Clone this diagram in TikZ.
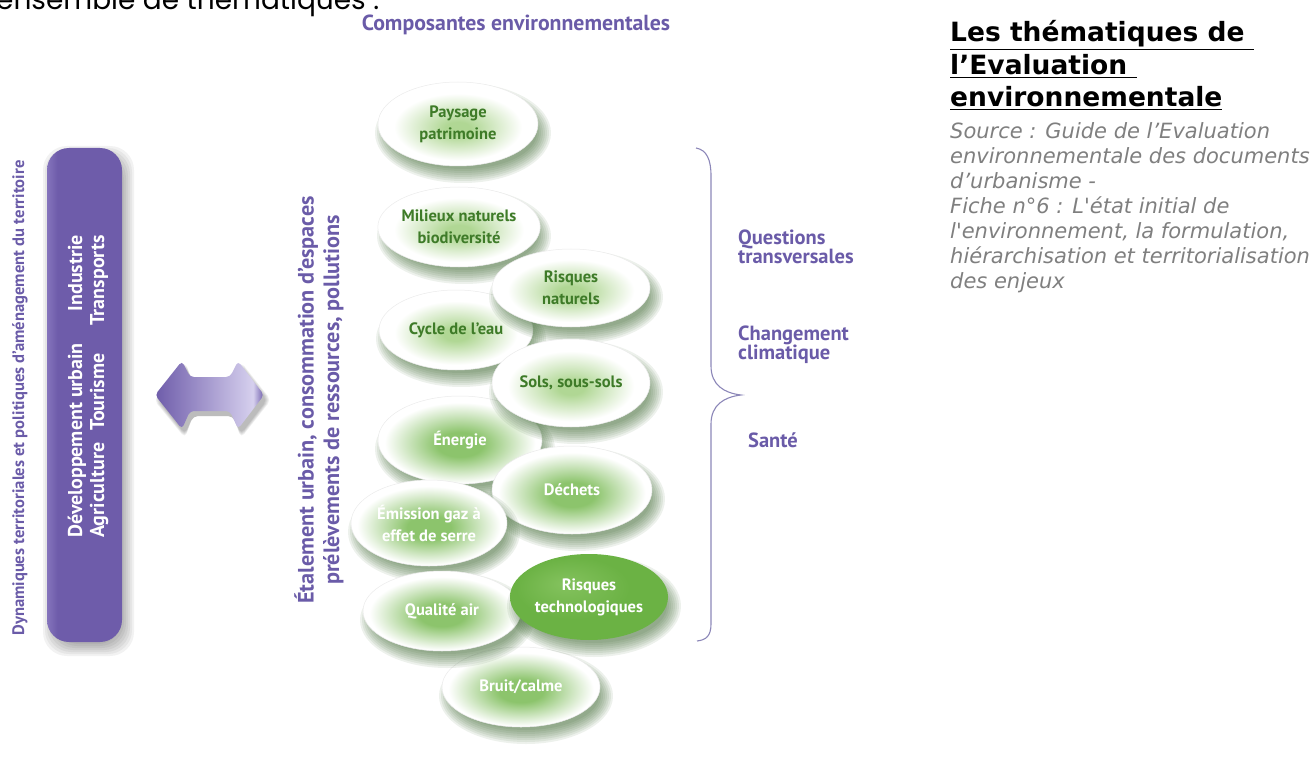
\documentclass[tikz,border=0pt]{standalone}
\usepackage{fontspec}
\setmainfont{PT Sans}
\newfontfamily\verd{DejaVu Sans}
\newfontfamily\topf{Poppins}
\usetikzlibrary{shapes.geometric}
\definecolor{purp}{HTML}{6A5BA8}
\definecolor{barc}{HTML}{6E5CAA}
\definecolor{barl}{HTML}{A99BD9}
\definecolor{barm}{HTML}{8E7FC6}
\definecolor{bard}{HTML}{5E4D9A}
\definecolor{dkg}{HTML}{3E7B28}
\definecolor{gA}{HTML}{B0D794}
\definecolor{gB}{HTML}{8CC46C}
\definecolor{techg}{HTML}{6BB244}
\definecolor{techl}{HTML}{84C25E}
\definecolor{shg}{HTML}{2C5A1F}
\definecolor{brc}{HTML}{8C87B8}
\definecolor{grayt}{HTML}{7F7F7F}
\definecolor{arl}{HTML}{D6D0EE}
\pgfdeclareradialshading{blobA}{\pgfpoint{0bp}{-3bp}}{color(0bp)=(gA); color(4bp)=(gA); color(20bp)=(white); color(50bp)=(white)}
\pgfdeclareradialshading{blobB}{\pgfpoint{0bp}{-3bp}}{color(0bp)=(gB); color(7bp)=(gB); color(23bp)=(white); color(50bp)=(white)}
\pgfdeclareradialshading{blobT}{\pgfpoint{-8bp}{8bp}}{color(0bp)=(techl); color(18bp)=(techg); color(50bp)=(techg)}
\pgfdeclarehorizontalshading{barsh}{100bp}{color(0bp)=(bard); color(4bp)=(barl); color(14bp)=(barl); color(32bp)=(barc); color(86bp)=(barc); color(94bp)=(barm); color(100bp)=(bard)}
\pgfdeclarehorizontalshading{arsh}{100bp}{color(0bp)=(barc); color(25bp)=(barc); color(70bp)=(arl); color(75bp)=(barc); color(100bp)=(bard)}
\tikzset{
  blobbase/.style={ellipse, inner sep=0pt, align=center, draw=black!8, line width=0.5pt,
    font=\bfseries\fontsize{16.5}{22}\selectfont},
  blobL/.style={blobbase, shading=blobA, text=dkg},
  blobW/.style={blobbase, shading=blobB, text=white},
  blobT/.style={blobbase, shading=blobT, text=white, draw=none},
  purtxt/.style={text=purp, font=\bfseries\fontsize{20.5}{19}\selectfont, align=left, inner sep=0pt},
  bartxt/.style={rotate=90, text=white, font=\bfseries\fontsize{20}{22}\selectfont, inner sep=0pt},
  ttl/.style={anchor=base west, inner sep=0pt, font=\verd\bfseries\fontsize{26.5}{33}\selectfont},
}
\newcommand\blob[7]{%
  \foreach \k in {0,...,7}{%
    \pgfmathsetmacro\rxx{#4+8-2*\k}\pgfmathsetmacro\ryy{#5+8-2*\k}%
    \fill[shg, opacity=0.085] (#2+5,#3+9) ellipse [x radius=\rxx, y radius=\ryy];}%
  \node[#6, minimum width=2*#4, minimum height=2*#5] (#1) at (#2,#3) {#7};}
\begin{document}
\begin{tikzpicture}[x=1pt,y=-1pt]
\useasboundingbox (0,0) rectangle (1316,759);
\clip (0,0) rectangle (1316,759);
% top cut text
\node[anchor=base west, inner sep=0pt, font=\topf\fontsize{28}{30}\selectfont] (topt) at (-4,10) {ensemble de thématiques :};
% title
\node[anchor=base, inner sep=0pt, text=purp, font=\bfseries\fontsize{21.8}{24}\selectfont] (comp) at (516,31) {Composantes environnementales};
% left rotated text
\node[rotate=90, text=purp, inner sep=0pt, font=\bfseries\fontsize{16.6}{18}\selectfont] (dyn) at (20,398) {Dynamiques territoriales et politiques d’aménagement du territoire};
% bar shadow
\foreach \k in {0,...,6}{
  \fill[black, opacity=0.05, rounded corners=24] (47+4-8+2*\k,148+6-8+2*\k) rectangle (122+4+8-2*\k,642+6+8-2*\k);}
\node[shading=barsh, rounded corners=22, minimum width=75, minimum height=494, inner sep=0pt] (bar) at (84.5,395) {};
\node[bartxt, anchor=base west] (b1) at (82,538) {Développement urbain};
\node[bartxt, anchor=base east] (b2) at (82,235) {Industrie};
\node[bartxt, anchor=base west] (b3) at (104,538) {Agriculture};
\node[bartxt, anchor=base west] (b4) at (104,431) {Tourisme};
\node[bartxt, anchor=base east] (b5) at (104,235) {Transports};
% double arrow
\foreach \k in {0,...,4}{
  \fill[black, opacity=0.06, rounded corners=5, shift={(3,5)}] (155-4+\k,395) -- (182,361-4+\k) -- (190,377) -- (230,377) -- (238,361-4+\k) -- (264+4-\k,395) -- (238,429+4-\k) -- (230,411) -- (190,411) -- (182,429+4-\k) -- cycle;}
\shade[shading=arsh, rounded corners=4] (155,395) -- (182,361) -- (190,377) -- (230,377) -- (238,361) -- (264,395) -- (238,429) -- (230,411) -- (190,411) -- (182,429) -- cycle;
% rotated middle text
\node[rotate=90, text=purp, inner sep=0pt, align=center, font=\bfseries\fontsize{22.2}{25.5}\selectfont] (etal) at (319,400) {Étalement urbain, consommation d’espaces\\prélèvements de ressources, pollutions};
% ellipses
\blob{pay}{458}{124}{80}{42}{blobL}{Paysage\\patrimoine}
\blob{mil}{459}{227}{79}{40}{blobL}{Milieux naturels\\biodiversité}
\blob{cyc}{456}{330}{77}{40}{blobL}{Cycle de l’eau}
\blob{rna}{571}{288}{79}{39}{blobL}{Risques\\naturels}
\blob{ene}{460}{440}{82}{44}{blobW}{Énergie}
\blob{sol}{571}{383}{79}{44}{blobL}{Sols, sous-sols}
\blob{dec}{572}{490}{80}{44}{blobW}{Déchets}
\blob{emi}{429}{523}{78}{43}{blobW}{Émission gaz à\\effet de serre}
\blob{bru}{521}{687}{79}{40}{blobW}{Bruit/calme}
\blob{qua}{442}{611}{79}{40}{blobW}{Qualité air}
\blob{tec}{589}{597}{79}{43}{blobT}{Risques\\technologiques}
% brace
\coordinate (bt) at (696,148);
\coordinate (bb) at (697,641);
\draw[brc, line width=1.1pt] (bt) .. controls (707,150) and (711,160) .. (711,176) -- (711,366) .. controls (711,385) and (724,393) .. (741,395) .. controls (724,397) and (711,405) .. (711,424) -- (711,624) .. controls (711,636) and (706,640) .. (bb);
% right labels
\node[purtxt, anchor=north west] (qt) at (738,230) {Questions\\transversales};
\node[purtxt, anchor=north west] (cc) at (738,326) {Changement\\climatique};
\node[purtxt, anchor=north west] (sa) at (748,433) {Santé};
% right text block
\node[ttl] (t1) at (950,42) {\underline{Les thématiques de\ }};
\node[ttl] (t2) at (950,75) {\underline{l’Evaluation\ }};
\node[ttl] (t3) at (950,107) {\underline{environnementale}};
\node[anchor=north west, inner sep=0pt, align=left, text=grayt, font=\verd\itshape\fontsize{21}{25}\selectfont] (src) at (950,122) {Source : Guide de l’Evaluation\\environnementale des documents\\d’urbanisme -\\Fiche n°6 : L'état initial de\\l'environnement, la formulation,\\hiérarchisation et territorialisation\\des enjeux};
\end{tikzpicture}
\end{document}
